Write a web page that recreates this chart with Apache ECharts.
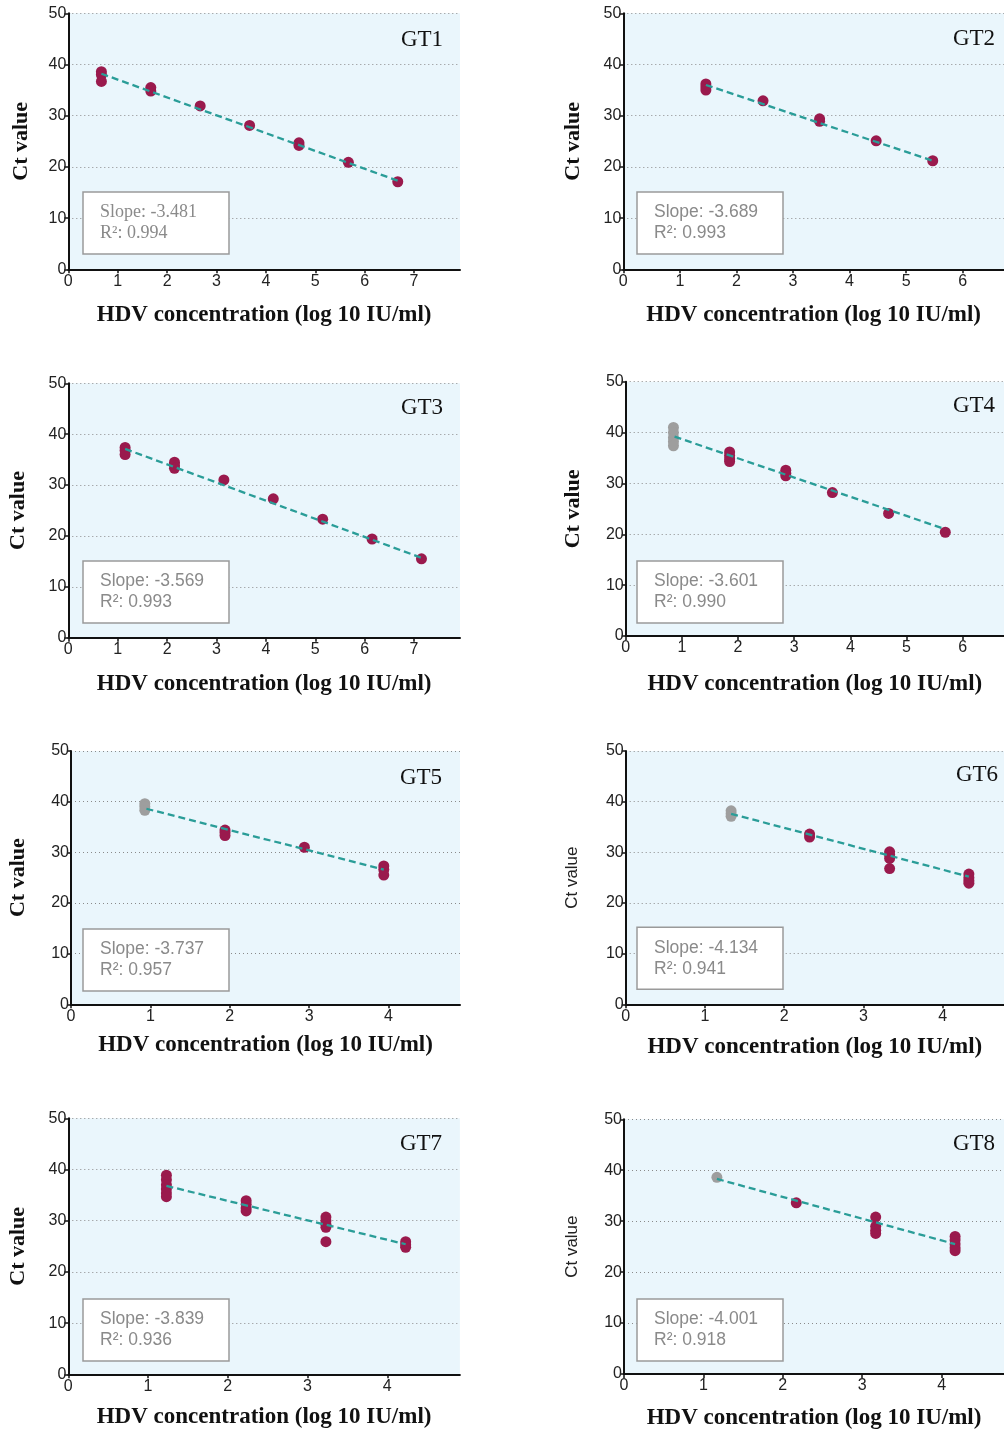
<!DOCTYPE html>
<html>
<head>
<meta charset="utf-8">
<script src="https://cdn.jsdelivr.net/npm/echarts@6/dist/echarts.min.js"></script>
<style>html,body{margin:0;padding:0;background:#fff;}#c{width:1004px;height:1431px;}</style>
</head>
<body>
<div id="c"></div>
<script>
// ---------- DATA ----------
const panelNames = ['GT1','GT2','GT3','GT4','GT5','GT6','GT7','GT8'];
const slopes = ['-3.481','-3.689','-3.569','-3.601','-3.737','-4.134','-3.839','-4.001'];
const r2s = ['0.994','0.993','0.993','0.990','0.957','0.941','0.936','0.918'];
const yTicks = [0,10,20,30,40,50];
const xTicks7 = [0,1,2,3,4,5,6,7];
const xTicks6 = [0,1,2,3,4,5,6];
const xTicks4 = [0,1,2,3,4];
const xName = 'HDV concentration (log 10 IU/ml)';
const yName = 'Ct value';

const gt1Red = [[0.67,38.6],[0.67,38.0],[0.67,36.7],[1.67,35.5],[1.67,34.8],[2.67,31.9],[3.67,28.1],[4.67,24.7],[4.67,24.2],[5.67,20.9],[6.67,17.1]];
const gt1Gray = [];
const gt1Fit = [[0.67,38.2],[6.67,17.3]];

const gt2Red = [[1.46,36.2],[1.46,35.6],[1.46,35.0],[2.47,32.9],[3.47,29.4],[3.47,28.9],[4.47,25.1],[5.47,21.2]];
const gt2Gray = [];
const gt2Fit = [[1.46,36.0],[5.47,21.2]];

const gt3Red = [[1.15,37.4],[1.15,36.8],[1.15,36.0],[2.15,34.5],[2.15,33.9],[2.15,33.3],[3.15,31.0],[4.15,27.3],[5.15,23.3],[6.15,19.4],[7.15,15.5]];
const gt3Gray = [];
const gt3Fit = [[1.15,37.1],[7.15,15.7]];

const gt4Red = [[1.85,36.2],[1.85,35.5],[1.85,34.8],[1.85,34.3],[2.85,32.6],[2.85,32.0],[2.85,31.5],[3.68,28.2],[4.68,24.1],[5.69,20.4]];
const gt4Gray = [[0.85,41.0],[0.85,40.0],[0.85,39.0],[0.85,38.2],[0.85,37.4]];
const gt4Fit = [[0.87,39.2],[5.69,21.0]];

const gt5Red = [[1.94,34.4],[1.94,33.9],[1.94,33.3],[2.94,31.0],[3.94,27.3],[3.94,26.6],[3.94,25.5]];
const gt5Gray = [[0.93,39.6],[0.93,39.0],[0.93,38.3]];
const gt5Fit = [[0.95,38.6],[3.94,26.6]];

const gt6Red = [[2.32,33.6],[2.32,33.0],[3.33,30.1],[3.33,29.5],[3.33,28.8],[3.33,26.8],[4.33,25.7],[4.33,25.0],[4.33,24.4],[4.33,23.9]];
const gt6Gray = [[1.33,38.2],[1.33,37.6],[1.33,37.1]];
const gt6Fit = [[1.33,37.6],[4.33,25.2]];

const gt7Red = [[1.23,38.9],[1.23,38.0],[1.23,37.0],[1.23,36.2],[1.23,35.4],[1.23,34.7],[2.23,33.9],[2.23,33.2],[2.23,32.5],[2.23,31.9],[3.23,30.7],[3.23,30.0],[3.23,29.3],[3.23,28.7],[3.23,25.9],[4.23,25.9],[4.23,25.3],[4.23,24.8]];
const gt7Gray = [];
const gt7Fit = [[1.23,36.8],[4.23,25.4]];

const gt8Red = [[2.17,33.6],[3.17,30.8],[3.17,29.0],[3.17,28.2],[3.17,27.6],[4.17,27.0],[4.17,26.3],[4.17,25.5],[4.17,24.8],[4.17,24.2]];
const gt8Gray = [[1.17,38.6]];
const gt8Fit = [[1.17,38.3],[4.17,25.5]];

const redSets = [gt1Red,gt2Red,gt3Red,gt4Red,gt5Red,gt6Red,gt7Red,gt8Red];
const graySets = [gt1Gray,gt2Gray,gt3Gray,gt4Gray,gt5Gray,gt6Gray,gt7Gray,gt8Gray];
const fitSets = [gt1Fit,gt2Fit,gt3Fit,gt4Fit,gt5Fit,gt6Fit,gt7Fit,gt8Fit];
const xTickSets = [xTicks7,xTicks6,xTicks7,xTicks6,xTicks4,xTicks4,xTicks4,xTicks4];

// ---------- LAYOUT / STYLE ----------
const layout = [
  {left:68.3, top:13.3, width:391.7, height:256, xMax:7.93, gx:34.7, gy:36.3, yBold:true, boxSerif:true, box:[83,192], title:[422,40]},
  {left:623.3, top:13.3, width:380.7, height:256, xMax:6.73, gx:34.7, gy:39, yBold:true, boxSerif:false, box:[637,192], title:[974,39]},
  {left:68.3, top:383.3, width:391.7, height:254.4, xMax:7.93, gx:34.6, gy:39, yBold:true, boxSerif:false, box:[83,561], title:[422,408]},
  {left:625.7, top:381.7, width:378.3, height:254.3, xMax:6.735, gx:36.3, gy:41.4, yBold:true, boxSerif:false, box:[637,561], title:[974,406]},
  {left:71, top:751, width:389, height:253.3, xMax:4.9, gx:29.7, gy:41.3, yBold:true, boxSerif:false, box:[83,929], title:[421,778]},
  {left:625.7, top:751, width:378.3, height:253.3, xMax:4.773, gx:31.4, gy:44.5, yBold:false, boxSerif:false, box:[637,927.3], title:[977,775]},
  {left:68.3, top:1118.3, width:391.6, height:256, xMax:4.91, gx:31.4, gy:39, yBold:true, boxSerif:false, box:[83,1299], title:[421,1144]},
  {left:624, top:1119.3, width:380, height:254.7, xMax:4.786, gx:33, gy:42.8, yBold:false, boxSerif:false, box:[637,1299], title:[974,1144]}
];
const BOX_W = 146, BOX_H = 62;
const RED = '#9A1A4D', GRAY = '#9E9E9E', TEAL = '#2A9D98', BG = '#EAF6FC';

const grids = [], xAxes = [], yAxes = [], series = [], graphics = [];
layout.forEach((L, i) => {
  grids.push({left:L.left, top:L.top, width:L.width, height:L.height, show:true, backgroundColor:BG, borderWidth:0});
  xAxes.push({
    type:'value', gridIndex:i, min:0, max:L.xMax,
    name:xName, nameLocation:'middle', nameGap:L.gx,
    nameTextStyle:{fontFamily:'Liberation Serif', fontWeight:'bold', fontSize:23, color:'#111'},
    axisLine:{show:true, onZero:false, lineStyle:{color:'#111', width:2}},
    axisTick:{show:true, length:4, lineStyle:{color:'#111', width:1.5}, customValues:xTickSets[i]},
    axisLabel:{fontFamily:'Liberation Sans', fontSize:16, color:'#222', margin:4, customValues:xTickSets[i]},
    splitLine:{show:false}
  });
  yAxes.push({
    type:'value', gridIndex:i, min:0, max:50, interval:10,
    name:yName, nameLocation:'middle', nameGap:L.gy,
    nameTextStyle: L.yBold ? {fontFamily:'Liberation Serif', fontWeight:'bold', fontSize:22, color:'#111'}
                           : {fontFamily:'Liberation Sans', fontWeight:'normal', fontSize:17, color:'#222'},
    axisLine:{show:true, onZero:false, lineStyle:{color:'#111', width:2}},
    axisTick:{show:true, length:4, lineStyle:{color:'#111', width:1.5}},
    axisLabel:{fontFamily:'Liberation Sans', fontSize:16, color:'#222', margin:2, customValues:yTicks},
    splitLine:{show:true, lineStyle:{color:'#8a8a8a', width:1, type:[1,3]}}
  });
  series.push({type:'scatter', xAxisIndex:i, yAxisIndex:i, data:graySets[i], symbolSize:11, itemStyle:{color:GRAY, opacity:1}, z:3});
  series.push({type:'scatter', xAxisIndex:i, yAxisIndex:i, data:redSets[i], symbolSize:11, itemStyle:{color:RED, opacity:1}, z:3});
  series.push({type:'line', xAxisIndex:i, yAxisIndex:i, data:fitSets[i], showSymbol:false, symbol:'none',
    lineStyle:{color:TEAL, width:2.3, type:[7,4]}, z:4, silent:true});
  graphics.push({type:'text', z:10, style:{text:panelNames[i], x:L.title[0], y:L.title[1], align:'center', verticalAlign:'middle',
    font:'23px "Liberation Serif"', fill:'#111'}});
  const bx = L.box[0], by = L.box[1];
  graphics.push({type:'rect', z:10, shape:{x:bx, y:by, width:BOX_W, height:BOX_H}, style:{fill:'#fff', stroke:'#9a9a9a', lineWidth:1.5}});
  const bf = L.boxSerif ? '18px "Liberation Serif"' : '17.5px "Liberation Sans"';
  graphics.push({type:'text', z:11, style:{text:'Slope: ' + slopes[i], x:bx+17, y:by+20.5, align:'left', verticalAlign:'middle', font:bf, fill:'#8a8a8a'}});
  graphics.push({type:'text', z:11, style:{text:'R\u00b2: ' + r2s[i], x:bx+17, y:by+41.5, align:'left', verticalAlign:'middle', font:bf, fill:'#8a8a8a'}});
});

const chart = echarts.init(document.getElementById('c'), null, {renderer:'canvas'});
chart.setOption({
  animation:false,
  backgroundColor:'#ffffff',
  grid:grids, xAxis:xAxes, yAxis:yAxes, series:series,
  graphic:{elements:graphics}
});
</script>
</body>
</html>
